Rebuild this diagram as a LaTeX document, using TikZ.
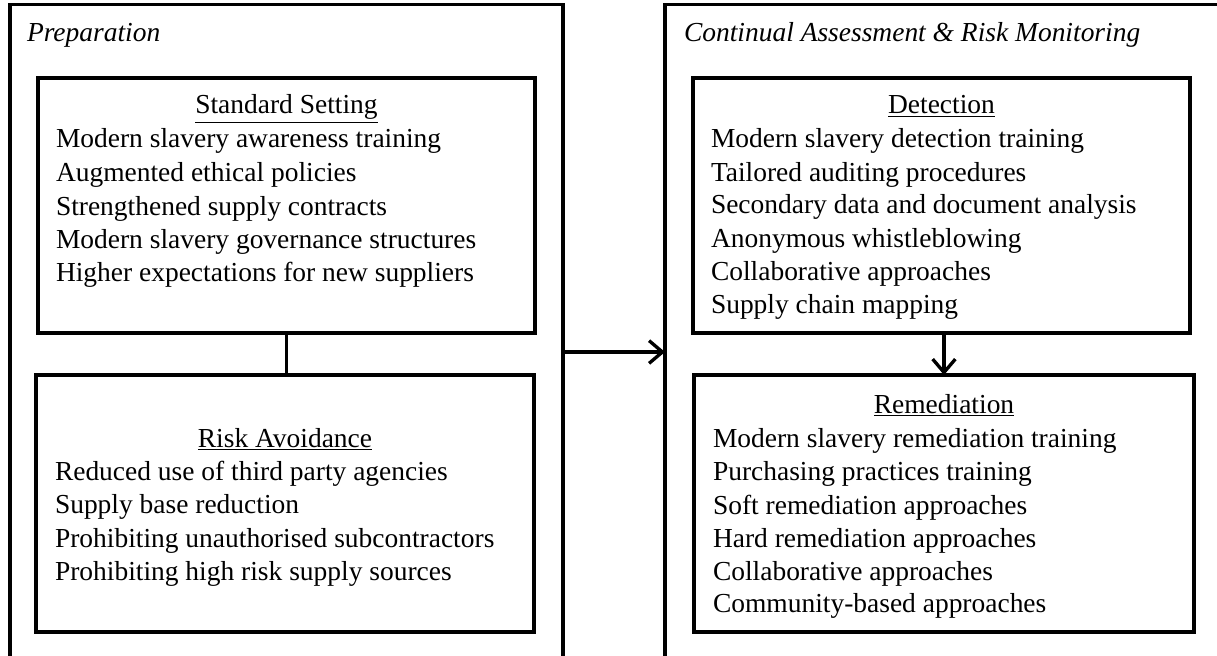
\documentclass[tikz,border=0pt]{standalone}
\usepackage{fontspec}
\setmainfont{Liberation Serif}
\usetikzlibrary{arrows.meta}
\begin{document}
\begin{tikzpicture}[x=0.75pt,y=-0.75pt,
  every node/.style={inner sep=0pt,outer sep=0pt},
  box/.style={draw,line width=2.5pt,rectangle},
  txt/.style={anchor=base west,font=\fontsize{20.6}{25}\selectfont},
  ttl/.style={anchor=base,font=\fontsize{20.6}{25}\selectfont},
  hdr/.style={anchor=base west,font=\fontsize{20.6}{25}\selectfont\itshape},
  conn/.style={line width=2.5pt},
  arr/.style={line width=2.5pt,-{Straight Barb[length=10pt,width=17pt,line width=2.5pt]}}]
\useasboundingbox (0,0) rectangle (1217,656);
\clip (0,0) rectangle (1217,656);
% outer boxes
\node[box,minimum width=414.75pt,minimum height=521.25pt] (prep) at (286.5,352) {};
\node[box,minimum width=417.75pt,minimum height=521.25pt] (cont) at (943.5,352) {};
% inner boxes
\node[box,minimum width=372.75pt,minimum height=191.25pt] (std) at (286.5,205.5) {};
\node[box,minimum width=373.5pt,minimum height=192.75pt] (risk) at (285,503.5) {};
\node[box,minimum width=372.75pt,minimum height=191.25pt] (det) at (941.5,205.5) {};
\node[box,minimum width=375pt,minimum height=192.75pt] (rem) at (944,503.5) {};
% headers
\node[hdr] (hprep) at (27,42) {Preparation};
\node[hdr] (hcont) at (684,42) {Continual Assessment \& Risk Monitoring};
% standard setting
\node[ttl] (tstd) at (286.5,114) {\underline{Standard Setting}};
\node[txt] (s1) at (56,148) {Modern slavery awareness training};
\node[txt] (s2) at (56,181) {Augmented ethical policies};
\node[txt] (s3) at (56,215) {Strengthened supply contracts};
\node[txt] (s4) at (56,248) {Modern slavery governance structures};
\node[txt] (s5) at (56,281) {Higher expectations for new suppliers};
% risk avoidance
\node[ttl] (trisk) at (285,447) {\underline{Risk Avoidance}};
\node[txt] (r1) at (55,480) {Reduced use of third party agencies};
\node[txt] (r2) at (55,513) {Supply base reduction};
\node[txt] (r3) at (55,547) {Prohibiting unauthorised subcontractors};
\node[txt] (r4) at (55,580) {Prohibiting high risk supply sources};
% detection
\node[ttl] (tdet) at (941.5,114) {\underline{Detection}};
\node[txt] (d1) at (711,148) {Modern slavery detection training};
\node[txt] (d2) at (711,181) {Tailored auditing procedures};
\node[txt] (d3) at (711,214) {Secondary data and document analysis};
\node[txt] (d4) at (711,247) {Anonymous whistleblowing};
\node[txt] (d5) at (711,280) {Collaborative approaches};
\node[txt] (d6) at (711,313) {Supply chain mapping};
% remediation
\node[ttl] (trem) at (944,413) {\underline{Remediation}};
\node[txt] (m1) at (713,447) {Modern slavery remediation training};
\node[txt] (m2) at (713,480) {Purchasing practices training};
\node[txt] (m3) at (713,514) {Soft remediation approaches};
\node[txt] (m4) at (713,547) {Hard remediation approaches};
\node[txt] (m5) at (713,580) {Collaborative approaches};
\node[txt] (m6) at (713,612) {Community-based approaches};
% connectors
\draw[conn] (std.south) -- (std.south |- risk.north);
\draw[arr] (prep.east) -- (cont.west);
\draw[arr] (det.south -| rem.north) -- (rem.north);
\end{tikzpicture}
\end{document}
